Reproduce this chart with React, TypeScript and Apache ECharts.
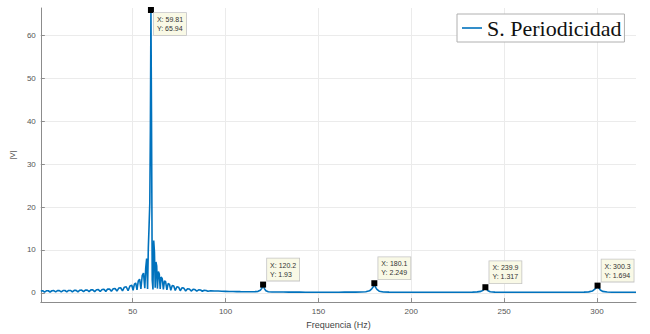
import React, { useEffect, useRef } from "react";
import * as echarts from "echarts";

const freq = [
  0.5, 1.5, 2.5, 3.5, 4.5, 5.5, 6.5, 7.5, 8.5, 9.5,
  10.5, 11.5, 12.5, 13.5, 14.5, 15.5, 16.5, 17.5, 18.5, 19.5,
  20.5, 21.5, 22.5, 23.5, 24.5, 25.5, 26.5, 27.5, 28.5, 29.5,
  30.5, 31.5, 32.5, 33.5, 34.5, 35.5, 36.5, 37.5, 38.5, 39.5,
  40.5, 41.5, 42.5, 43.5, 44.5, 45.5, 46.5, 47.5, 48.5, 49.5,
  50.2, 50.9, 51.6, 52.3, 53.0, 53.7, 54.4, 55.1, 55.8, 56.5,
  57.0, 57.5, 58.0, 58.4, 58.8, 59.2, 59.5, 59.81, 60.1, 60.5,
  60.9, 61.3, 61.7, 62.1, 62.5, 62.9, 63.3, 63.8, 64.3, 64.8,
  65.3, 65.9, 66.5, 67.1, 67.7, 68.4, 69.1, 69.8, 70.5, 71.3,
  72.1, 72.9, 73.8, 74.7, 75.6, 76.5, 77.5, 78.5, 79.5, 80.5,
  81.5, 82.5, 83.5, 84.5, 85.5, 86.5, 87.5, 88.5, 89.5, 90.5,
  92, 94, 96, 98, 100, 102, 104, 106, 108, 110,
  112, 114, 116, 117.5, 118.7, 119.5, 120.2, 120.9, 121.7, 123,
  125, 128, 131, 134, 137, 140, 143, 146, 149, 152,
  155, 158, 161, 164, 167, 170, 173, 175.5, 177.5, 178.7,
  179.5, 180.1, 180.7, 181.5, 182.7, 185, 188, 191, 194, 197,
  200, 203, 206, 209, 212, 215, 218, 221, 224, 227,
  230, 233, 235.5, 237.5, 238.7, 239.4, 239.9, 240.5, 241.3, 242.5,
  245, 248, 251, 254, 257, 260, 263, 266, 269, 272,
  275, 278, 281, 284, 287, 290, 293, 295.5, 297.5, 298.8,
  299.6, 300.3, 301, 301.8, 303, 305.5, 308, 311, 314, 317,
  321,
];

const amp = [
  0.42, 0.5, 0.18, 0.48, 0.5, 0.2, 0.5, 0.52, 0.22, 0.52,
  0.53, 0.22, 0.54, 0.55, 0.24, 0.56, 0.57, 0.25, 0.59, 0.6,
  0.26, 0.62, 0.63, 0.28, 0.65, 0.67, 0.29, 0.69, 0.71, 0.3,
  0.74, 0.76, 0.32, 0.8, 0.83, 0.35, 0.88, 0.92, 0.38, 0.98,
  1.03, 0.42, 1.12, 1.2, 0.46, 1.32, 1.42, 0.5, 1.62, 1.78,
  0.6, 2.05, 2.3, 0.7, 2.8, 3.2, 0.9, 4.0, 4.6, 1.1,
  5.8, 8.0, 0.9, 10.5, 15.5, 21, 38, 65.94, 42, 3,
  0.8, 12.2, 9.5, 1.2, 7.2, 6.3, 1.0, 5.0, 4.4, 0.9,
  3.7, 3.3, 0.8, 2.8, 2.6, 0.7, 2.2, 2.0, 0.6, 1.75,
  1.6, 0.55, 1.42, 1.32, 0.5, 1.18, 1.1, 0.45, 0.98, 0.92,
  0.42, 0.82, 0.78, 0.4, 0.7, 0.66, 0.38, 0.6, 0.57, 0.36,
  0.5, 0.45, 0.42, 0.38, 0.36, 0.33, 0.31, 0.3, 0.28, 0.27,
  0.26, 0.27, 0.29, 0.36, 0.6, 1.05, 1.93, 1.0, 0.5, 0.28,
  0.22, 0.2, 0.19, 0.18, 0.17, 0.17, 0.16, 0.16, 0.16, 0.16,
  0.16, 0.16, 0.16, 0.17, 0.17, 0.18, 0.2, 0.27, 0.48, 0.95,
  1.4, 2.249, 1.35, 0.8, 0.38, 0.22, 0.18, 0.16, 0.15, 0.15,
  0.14, 0.14, 0.14, 0.14, 0.14, 0.14, 0.14, 0.14, 0.15, 0.15,
  0.16, 0.18, 0.23, 0.35, 0.62, 0.95, 1.317, 0.88, 0.5, 0.25,
  0.18, 0.16, 0.15, 0.14, 0.14, 0.14, 0.14, 0.14, 0.14, 0.14,
  0.14, 0.14, 0.14, 0.15, 0.15, 0.16, 0.18, 0.24, 0.42, 0.85,
  1.2, 1.694, 1.15, 0.68, 0.34, 0.2, 0.16, 0.15, 0.14, 0.14,
  0.14,
];

const tipFreq = [59.81, 120.2, 180.1, 239.9, 300.3];
const tipAmp = [65.94, 1.93, 2.249, 1.317, 1.694];

const xTicks = [50, 100, 150, 200, 250, 300];
const yTicks = [0, 10, 20, 30, 40, 50, 60];

const seriesName = "S. Periodicidad";
const xName = "Frequencia (Hz)";
const yName = "|V|";

const SANS = "'Liberation Sans', Arial, Helvetica, sans-serif";

export default function App() {
  const ref = useRef<HTMLDivElement>(null);
  useEffect(() => {
    const chart = echarts.init(ref.current!, null, { renderer: "svg" });
    const data = freq.map((f, i) => [f, amp[i]]);
    chart.setOption({
      animation: false,
      backgroundColor: "#ffffff",
      grid: { left: 37, top: 8, width: 599, height: 300, containLabel: false },
      legend: {
        left: 457,
        top: 14,
        backgroundColor: "#ffffff",
        borderColor: "#b0b0b0",
        borderWidth: 1,
        borderRadius: 0,
        padding: [3, 3, 3, 5],
        itemWidth: 20,
        itemHeight: 1.6,
        icon: "rect",
        textStyle: { fontFamily: "'Liberation Serif', 'Times New Roman', serif", fontSize: 22, color: "#111" },
        data: [{ name: seriesName }],
      },
      xAxis: {
        type: "value",
        min: 0.5,
        max: 321,
        name: xName,
        nameLocation: "middle",
        nameGap: 17,
        nameTextStyle: { fontFamily: SANS, fontSize: 9, color: "#444" },
        axisLine: { show: true, onZero: false, lineStyle: { color: "#8c8c8c", width: 1 } },
        axisTick: { show: true, inside: true, length: 4, customValues: xTicks, lineStyle: { color: "#8c8c8c" } },
        axisLabel: { customValues: xTicks, fontFamily: SANS, fontSize: 8, color: "#555", margin: 5 },
        splitLine: { show: true, lineStyle: { color: "#ebebeb", width: 1 } },
      },
      yAxis: {
        type: "value",
        min: -2.15,
        max: 66.4,
        name: yName,
        nameLocation: "middle",
        nameGap: 14,
        nameRotate: 90,
        nameTextStyle: { fontFamily: SANS, fontSize: 8, color: "#444" },
        axisLine: { show: true, onZero: false, lineStyle: { color: "#8c8c8c", width: 1 } },
        axisTick: { show: true, inside: true, length: 4, customValues: yTicks, lineStyle: { color: "#8c8c8c" } },
        axisLabel: { customValues: yTicks, fontFamily: SANS, fontSize: 8, color: "#555", margin: 5 },
        splitLine: { show: true, lineStyle: { color: "#ebebeb", width: 1 } },
      },
      series: [
        {
          name: seriesName,
          type: "line",
          data,
          symbol: "none",
          lineStyle: { color: "#0072BD", width: 1.6 },
          itemStyle: { color: "#0072BD" },
          markPoint: {
            symbol: "rect",
            symbolSize: 6,
            itemStyle: { color: "#000" },
            label: {
              show: true,
              formatter: (p: any) => p.name,
              fontFamily: SANS,
              fontSize: 7,
              lineHeight: 9,
              color: "#333",
              backgroundColor: "#f9f9e6",
              borderColor: "#c4c4c4",
              borderWidth: 0.8,
              padding: [2, 3],
              align: "left",
              verticalAlign: "top",
            },
            data: tipFreq.map((f, i) => ({
              name: `X: ${f}\nY: ${tipAmp[i]}`,
              coord: [f, tipAmp[i]],
              value: tipAmp[i],
              label: { position: i === 0 ? [6, 6] : [7, -23] },
            })),
          },
        },
      ],
    });
    return () => chart.dispose();
  }, []);
  return (
    <div
      ref={ref}
      style={{ position: "fixed", left: 0, top: 0, width: 650, height: 334, background: "#fff" }}
    />
  );
}
